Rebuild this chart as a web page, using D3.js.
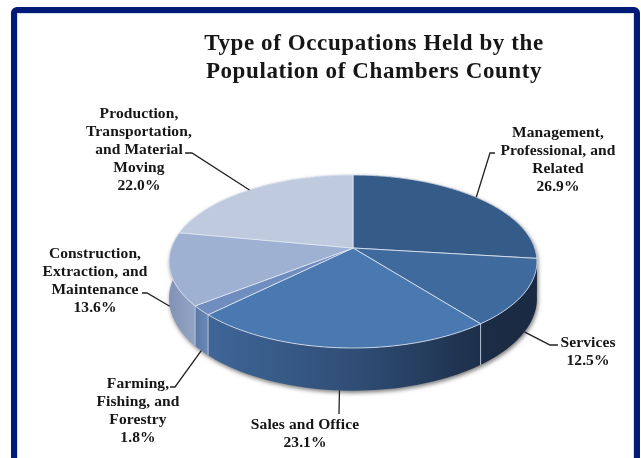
<!DOCTYPE html>
<html>
<head>
<script src="https://cdnjs.cloudflare.com/ajax/libs/d3/7.8.5/d3.min.js"></script>
<style>
  html, body { margin: 0; background: #fff; }
  svg { display: block; }
  text { font-family: "Liberation Serif", serif; font-weight: bold; fill: #141414; }
</style>
</head>
<body>
<script>
// values go clockwise from 12 o'clock
const categories = ["Management, Professional, and Related", "Services", "Sales and Office",
    "Farming, Fishing, and Forestry", "Construction, Extraction, and Maintenance",
    "Production, Transportation, and Material Moving"];
const values = [26.9, 12.5, 23.1, 1.8, 13.6, 22.0];
const labelLines = [
    ["Management,", "Professional, and", "Related"],
    ["Services"],
    ["Sales and Office"],
    ["Farming,", "Fishing, and", "Forestry"],
    ["Construction,", "Extraction, and", "Maintenance"],
    ["Production,", "Transportation,", "and Material", "Moving"]
];
const titleLines = ["Type of Occupations Held by the", "Population of Chambers County"];

const topColors = ["#355b88", "#3e6a9e", "#4a78b0", "#6f8dbf", "#9fb1d2", "#bfcade"];
const wallLeft = ["#1b2c45", "#1b2c45", "#3f6698", "#5c7aa8", "#8192b4", "#8192b4"];
const wallRight = ["#1b2c45", "#1a2a42", "#1d2f4a", "#6a88b6", "#93a5c6", "#93a5c6"];

// label anchor: centre x, centre y of first line
const labelPos = [[558, 132], [588, 342], [305, 424], [138, 383], [95, 253], [139, 113]];
// end of the leader next to the text
const elbow = [[490, 153], [550, 345], [339, 414], [175, 387], [147, 293], [192, 153]];
const elbowTail = [[495, 153], [558, 345], null, [170, 387], [142, 293], [185, 153]];

const width = 641, height = 458;
const svg = d3.select("body").append("svg").attr("width", width).attr("height", height);
const defs = svg.append("defs");

defs.append("filter").attr("id", "soft").append("feGaussianBlur").attr("stdDeviation", 0.4);
defs.append("filter").attr("id", "shadow").attr("x", "-10%").attr("y", "-10%").attr("width", "120%").attr("height", "120%")
    .append("feGaussianBlur").attr("stdDeviation", 2);

// frame
svg.append("rect").attr("x", 14).attr("y", 10).attr("width", 623).attr("height", 470).attr("rx", 3)
    .attr("fill", "#fff").attr("stroke", "#001a78").attr("stroke-width", 6);
svg.append("rect").attr("x", 17.5).attr("y", 13.5).attr("width", 616).attr("height", 470)
    .attr("fill", "none").attr("stroke", "#d5deee").attr("stroke-width", 1);

// title
const title = svg.append("g").attr("filter", "url(#soft)");
title.selectAll("text").data(titleLines).enter().append("text")
    .attr("x", 374)
    .attr("y", (d, i) => 50 + i * 28)
    .attr("text-anchor", "middle")
    .attr("font-size", 23)
    .style("letter-spacing", "0.6px")
    .text(d => d);

// perspective pie: apex and rim fitted to the picture
const cx = 353, cy = 248, R = 181.7, A = 84.4, k = 0.156, depth = 36;
const sx = d3.scaleLinear().domain([-1, 1]).range([cx - R, cx + R]);
const sy = d3.scaleLinear().domain([-1, 1]).range([cy - A, cy + A]);
function rim(a, drop) {
    const w = 1 + k * Math.cos(a);
    return [sx(Math.sin(a) / w), sy(-Math.cos(a) / w) + (drop ? depth / w : 0)];
}
const line = d3.line();
function samples(s) {
    const n = Math.max(4, Math.ceil((s.endAngle - s.startAngle) / 0.03));
    return d3.range(n + 1).map(i => s.startAngle + (s.endAngle - s.startAngle) * i / n);
}

const slices = d3.pie().sort(null)(values);

slices.forEach((s, i) => {
    const g = defs.append("linearGradient").attr("id", "wall" + i);
    g.append("stop").attr("offset", 0).attr("stop-color", wallLeft[i]);
    if (i === 2) g.append("stop").attr("offset", 0.55).attr("stop-color", "#2f4d75");
    g.append("stop").attr("offset", 1).attr("stop-color", wallRight[i]);
});

function wallPath(s) {
    const as = samples(s);
    return line(as.map(a => rim(a, false)).concat(as.slice().reverse().map(a => rim(a, true)))) + "Z";
}

// soft shadow under the walls
svg.append("g").attr("filter", "url(#shadow)").selectAll("path")
    .data(slices).enter().append("path")
    .attr("d", wallPath)
    .attr("fill", "#777")
    .attr("transform", "translate(1,2)");

// walls; the top faces cover the far side
const walls = svg.append("g");
walls.selectAll("path").data(slices).enter().append("path")
    .attr("d", wallPath)
    .attr("fill", (d, i) => "url(#wall" + i + ")");
walls.selectAll("line").data(slices).enter().append("line")
    .filter(d => Math.cos(d.startAngle) < -0.2)
    .attr("x1", d => rim(d.startAngle, false)[0])
    .attr("y1", d => rim(d.startAngle, false)[1])
    .attr("x2", d => rim(d.startAngle, true)[0])
    .attr("y2", d => rim(d.startAngle, true)[1])
    .attr("stroke", "#b4c0d4").attr("stroke-width", 1);

// top faces
svg.append("g").selectAll("path").data(slices).enter().append("path")
    .attr("d", d => line([[cx, cy]].concat(samples(d).map(a => rim(a, false)))) + "Z")
    .attr("fill", (d, i) => topColors[i])
    .attr("stroke", "#dfe6f1").attr("stroke-width", 0.8)
    .attr("stroke-linejoin", "round");

// leaders start at the middle of each slice's outer edge
const leaders = svg.append("g").attr("fill", "none").attr("stroke", "#222").attr("stroke-width", 1.3);
slices.forEach((s, i) => {
    const mid = (s.startAngle + s.endAngle) / 2;
    const start = rim(mid, Math.cos(mid) < -0.1);
    const pts = [start, elbow[i]];
    if (elbowTail[i]) pts.push(elbowTail[i]);
    leaders.append("path").attr("d", line(pts));
});

// labels
const labels = svg.append("g").attr("filter", "url(#soft)");
slices.forEach((s, i) => {
    const rows = labelLines[i].concat([d3.format(".1f")(values[i]) + "%"]);
    labels.selectAll(null).data(rows).enter().append("text")
        .attr("x", labelPos[i][0])
        .attr("y", (d, j) => labelPos[i][1] + j * 18 + 5)
        .attr("text-anchor", "middle")
        .attr("font-size", 15.5)
        .style("letter-spacing", "0.1px")
        .text(d => d);
});
</script>
</body>
</html>
